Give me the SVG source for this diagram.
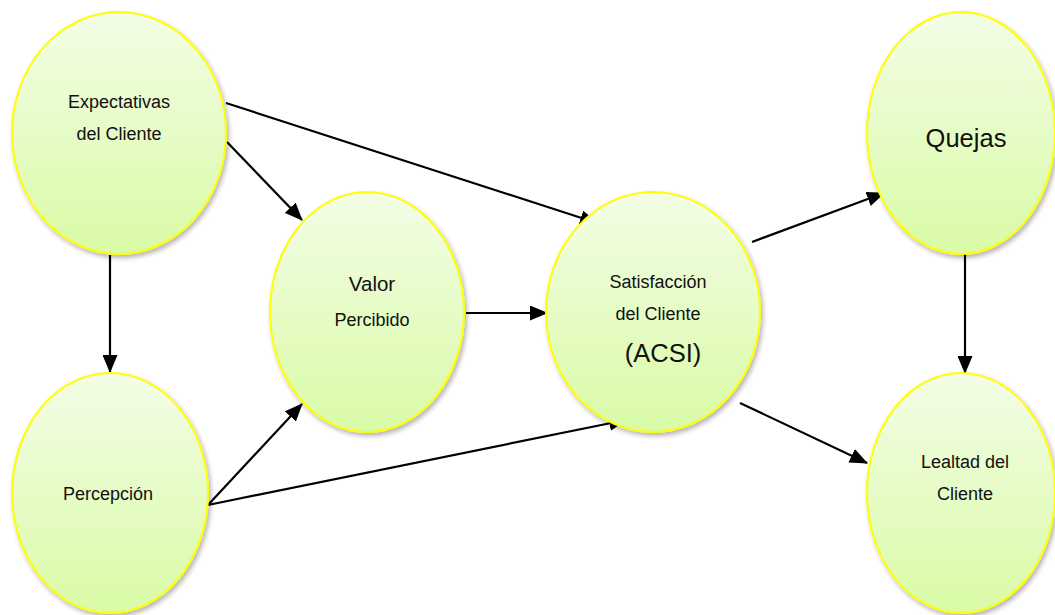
<svg xmlns="http://www.w3.org/2000/svg" width="1055" height="615" viewBox="0 0 1055 615">
  <defs>
    <linearGradient id="fillGreen" x1="0" y1="0" x2="0" y2="1">
      <stop offset="0" stop-color="#f3fde6"/>
      <stop offset="1" stop-color="#d9fba6"/>
    </linearGradient>
    <filter id="shadow" x="-10%" y="-10%" width="125%" height="125%">
      <feGaussianBlur in="SourceAlpha" stdDeviation="2.5"/>
      <feOffset dx="2" dy="3" result="b"/>
      <feComponentTransfer><feFuncA type="linear" slope="0.3"/></feComponentTransfer>
      <feMerge><feMergeNode/><feMergeNode in="SourceGraphic"/></feMerge>
    </filter>
    <marker id="arrow" markerUnits="userSpaceOnUse" markerWidth="19" markerHeight="15" refX="17" refY="7.5" orient="auto">
      <path d="M0,0 L18,7.5 L0,15 z" fill="#000"/>
    </marker>
  </defs>
  <style>
    .node ellipse { fill: url(#fillGreen); stroke: #ffff00; stroke-width: 2; filter: url(#shadow); }
    .node text { font-family: "Liberation Sans", Arial, sans-serif; fill: #111; text-anchor: middle; }
    .s { font-size: 18px; }
    .m { font-size: 20.5px; }
    .l { font-size: 25.5px; }
    .edge { stroke: #000; stroke-width: 2.2; fill: none; marker-end: url(#arrow); }
  </style>

  <g id="connectors">
    <line class="edge" x1="226" y1="103" x2="597" y2="223"/>
    <line class="edge" x1="227" y1="142" x2="302" y2="220"/>
    <line class="edge" x1="110" y1="255" x2="110" y2="372"/>
    <line class="edge" x1="208" y1="505" x2="302" y2="404"/>
    <line class="edge" x1="208" y1="505" x2="626" y2="420"/>
    <line class="edge" x1="466" y1="313" x2="547" y2="313"/>
    <line class="edge" x1="752" y1="242" x2="884" y2="193"/>
    <line class="edge" x1="740" y1="403" x2="867" y2="463"/>
    <line class="edge" x1="965" y1="254" x2="965" y2="373"/>
  </g>

  <g id="expectativas" class="node">
    <ellipse cx="119" cy="133" rx="107" ry="121"/>
    <text class="s" x="119" y="108">Expectativas</text>
    <text class="s" x="119" y="140">del Cliente</text>
  </g>

  <g id="percepcion" class="node">
    <ellipse cx="110" cy="493" rx="98" ry="120"/>
    <text class="s" x="108" y="500">Percepción</text>
  </g>

  <g id="valor" class="node">
    <ellipse cx="367" cy="312" rx="97" ry="120"/>
    <text class="m" x="372" y="291">Valor</text>
    <text class="s" x="372" y="326">Percibido</text>
  </g>

  <g id="satisfaccion" class="node">
    <ellipse cx="653" cy="312" rx="107" ry="120"/>
    <text class="s" x="658" y="288">Satisfacción</text>
    <text class="s" x="658" y="320">del Cliente</text>
    <text class="l" x="663" y="362">(ACSI)</text>
  </g>

  <g id="quejas" class="node">
    <ellipse cx="961" cy="133" rx="94" ry="121"/>
    <text class="l" x="966" y="147">Quejas</text>
  </g>

  <g id="lealtad" class="node">
    <ellipse cx="961" cy="493" rx="94" ry="120"/>
    <text class="s" x="965" y="468">Lealtad del</text>
    <text class="s" x="965" y="500">Cliente</text>
  </g>
</svg>
